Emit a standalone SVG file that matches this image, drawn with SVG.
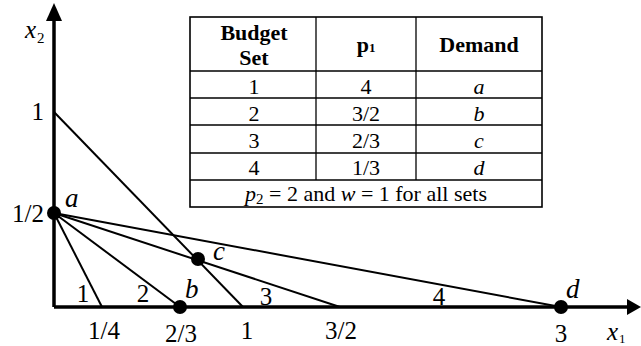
<svg xmlns="http://www.w3.org/2000/svg" width="641" height="346" viewBox="0 0 641 346">
<style>
.t{font-size:22px;text-anchor:middle}
.b{font-weight:bold}
.i{font-style:italic}
.g{font-size:25px}
.gi{font-size:27px;font-style:italic}
.ln{stroke:#000;stroke-width:2;fill:none}
.ax{stroke:#000;stroke-width:3.5;fill:none}
.tb{stroke:#000;stroke-width:1.6;fill:#fff}
.tl{stroke:#000;stroke-width:1.3}
</style>
<rect width="641" height="346" fill="#fff"/>
<g font-family="'Liberation Serif', 'DejaVu Serif', serif" fill="#000">
<g id="axes">
<line class="ax" x1="54" y1="307" x2="54" y2="18"/>
<polygon points="54,3 46,21 62,21" fill="#000"/>
<line class="ax" x1="54" y1="307" x2="628" y2="307"/>
<polygon points="641,307 627,299 627,315" fill="#000"/>
<text x="25" y="38" style="font-size:25px;font-style:italic">x</text>
<text x="37" y="43" style="font-size:15px">2</text>
<text x="607" y="340" style="font-size:25px;font-style:italic">x</text>
<text x="619" y="343" style="font-size:13px">1</text>
</g>
<g id="connectors">
<line class="ln" x1="54" y1="112" x2="243" y2="307"/>
<line class="ln" x1="54" y1="213" x2="102" y2="307"/>
<line class="ln" x1="54" y1="213" x2="180" y2="307"/>
<line class="ln" x1="54" y1="213" x2="340" y2="307"/>
<line class="ln" x1="54" y1="213" x2="561" y2="307"/>
</g>
<g id="ticks">
<text class="g" x="44" y="120" text-anchor="end">1</text>
<text class="g" x="44" y="222" text-anchor="end">1/2</text>
<text class="g" x="104" y="339" text-anchor="middle">1/4</text>
<text class="g" x="181" y="342" text-anchor="middle">2/3</text>
<text class="g" x="247" y="339" text-anchor="middle">1</text>
<text class="g" x="341" y="339" text-anchor="middle">3/2</text>
<text class="g" x="561" y="342" text-anchor="middle">3</text>
</g>
<g id="line-labels">
<text class="g" x="83" y="302" text-anchor="middle">1</text>
<text class="g" x="143" y="302" text-anchor="middle">2</text>
<text class="g" x="266" y="305" text-anchor="middle">3</text>
<text class="g" x="439" y="305" text-anchor="middle">4</text>
</g>
<g id="point-a">
<circle cx="54" cy="213" r="7"/>
<text class="gi" x="65" y="207">a</text>
</g>
<g id="point-b">
<circle cx="180" cy="307" r="7"/>
<text class="gi" x="185" y="298">b</text>
</g>
<g id="point-c">
<circle cx="198" cy="259" r="7"/>
<text class="gi" x="213" y="260">c</text>
</g>
<g id="point-d">
<circle cx="561" cy="307" r="7"/>
<text class="gi" x="566" y="298">d</text>
</g>
<g id="table">
<rect class="tb" x="190" y="17" width="352" height="190"/>
<line class="tl" x1="190" y1="71" x2="542" y2="71"/>
<line class="tl" x1="190" y1="98" x2="542" y2="98"/>
<line class="tl" x1="190" y1="125" x2="542" y2="125"/>
<line class="tl" x1="190" y1="153" x2="542" y2="153"/>
<line class="tl" x1="190" y1="180" x2="542" y2="180"/>
<line class="tl" x1="316" y1="17" x2="316" y2="180"/>
<line class="tl" x1="416" y1="17" x2="416" y2="180"/>
<text class="t b" x="254" y="40">Budget</text>
<text class="t b" x="254" y="65">Set</text>
<text class="t b" x="366" y="52">p<tspan style="font-size:13px">1</tspan></text>
<text class="t b" x="479" y="52">Demand</text>
<text class="t" x="254" y="94">1</text>
<text class="t" x="366" y="94">4</text>
<text class="t i" x="479" y="94">a</text>
<text class="t" x="254" y="121">2</text>
<text class="t" x="366" y="121">3/2</text>
<text class="t i" x="479" y="121">b</text>
<text class="t" x="254" y="148">3</text>
<text class="t" x="366" y="148">2/3</text>
<text class="t i" x="479" y="148">c</text>
<text class="t" x="254" y="175">4</text>
<text class="t" x="366" y="175">1/3</text>
<text class="t i" x="479" y="175">d</text>
<text class="t" x="366" y="201"><tspan font-style="italic">p</tspan><tspan style="font-size:15px" dy="3">2</tspan><tspan dy="-3"> = 2 and </tspan><tspan font-style="italic">w</tspan> = 1 for all sets</text>
</g>
</g>
</svg>
